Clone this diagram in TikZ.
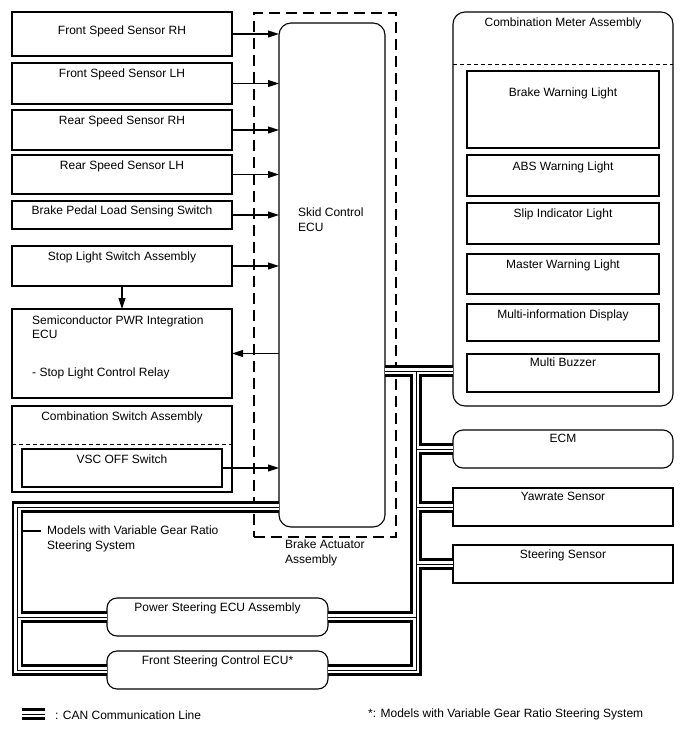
\documentclass[tikz,border=0pt]{standalone}
\usepackage{fontspec}
\setmainfont{Liberation Sans}
\usetikzlibrary{positioning,arrows.meta}

\begin{document}
\begin{tikzpicture}[
  x=1pt, y=-1pt,
  font=\fontsize{12}{14}\selectfont,
  box/.style={draw, line width=1.1pt, inner sep=0pt, outer sep=0pt, minimum width=220pt, anchor=north west},
  rbox/.style={box, rounded corners=10pt},
  ttl/.style={anchor=north, inner sep=0pt, yshift=-5.5pt, align=center},
  sig/.style={line width=1.1pt, -{Triangle[length=11pt, width=7pt]}},
  sep/.style={line width=1pt, dash pattern=on 4pt off 3pt}
]
  \useasboundingbox (0,0) rectangle (688,755);

  % brake actuator assembly
  \node[box, minimum width=142pt, minimum height=524pt, line width=1.3pt, dash pattern=on 11pt off 6pt,
    label={[anchor=north west, align=left, inner sep=0pt, xshift=31pt, yshift=-3pt]south west:Brake Actuator\\[1pt]Assembly}] (bact) at (254,13) {};
  \node[rbox, rounded corners=12pt, minimum width=106pt, minimum height=504pt,
    label={[anchor=north west, align=left, inner sep=0pt, xshift=19pt, yshift=-185pt]north west:Skid Control\\[1pt]ECU}] (skid) at (279,23) {};

  % inputs on the left
  \node[box, minimum height=44pt, label={[ttl, yshift=-8pt]north:Front Speed Sensor RH}] (frs) at (12,12) {};
  \node[box, minimum height=41pt, below=7pt of frs, label={[ttl]north:Front Speed Sensor LH}] (fls) {};
  \node[box, minimum height=40pt, below=6pt of fls, label={[ttl]north:Rear Speed Sensor RH}] (rrs) {};
  \node[box, minimum height=39pt, below=5pt of rrs, label={[ttl]north:Rear Speed Sensor LH}] (rls) {};
  \node[box, minimum height=28pt, below=7pt of rls, label={[ttl, yshift=1pt]north:Brake Pedal Load Sensing Switch}] (bpl) {};
  \node[box, minimum height=40pt, below=17pt of bpl, label={[ttl]north:Stop Light Switch Assembly}] (sls) {};
  \node[box, minimum height=89pt, below=23pt of sls,
    label={[anchor=north west, align=left, inner sep=0pt, xshift=20pt, yshift=-6.5pt]north west:Semiconductor PWR Integration\\ECU\\[24pt]- Stop Light Control Relay}] (semi) {};
  \node[box, minimum height=86pt, below=8pt of semi, label={[ttl]north:Combination Switch Assembly}] (csw) {};
  \draw[sep] ([yshift=-38pt]csw.north west) -- ([yshift=-38pt]csw.north east);
  \node[box, minimum width=200pt, minimum height=38pt, label={[ttl]north:VSC OFF Switch}] (vsc) at (22,449) {};

  % combination meter
  \node[rbox, rounded corners=12pt, minimum height=394pt, label={[ttl]north:Combination Meter Assembly}] (meter) at (453,12) {};
  \draw[sep] ([yshift=-52pt]meter.north west) -- ([yshift=-52pt]meter.north east);
  \node[box, minimum width=192pt, minimum height=77pt, label={[ttl, yshift=-11pt]north:Brake Warning Light}] (bwl) at (467,71) {};
  \node[box, minimum width=192pt, minimum height=41pt, below=7pt of bwl, label={[ttl, yshift=-1pt]north:ABS Warning Light}] (abs) {};
  \node[box, minimum width=192pt, minimum height=41pt, below=7pt of abs, label={[ttl]north:Slip Indicator Light}] (slip) {};
  \node[box, minimum width=192pt, minimum height=40pt, below=10pt of slip, label={[ttl]north:Master Warning Light}] (mwl) {};
  \node[box, minimum width=192pt, minimum height=37pt, below=10pt of mwl, label={[ttl]north:Multi-information Display}] (mid) {};
  \node[box, minimum width=192pt, minimum height=38pt, below=13pt of mid, label={[ttl, yshift=2pt]north:Multi Buzzer}] (buz) {};

  % other ECUs and sensors
  \node[rbox, minimum height=38pt, label={[ttl, yshift=2pt]north:ECM}] (ecm) at (453,430) {};
  \node[box, minimum height=38pt, label={[ttl, yshift=2pt]north:Yawrate Sensor}] (yaw) at (453,488) {};
  \node[box, minimum height=38pt, label={[ttl, yshift=1pt]north:Steering Sensor}] (str) at (453,545) {};
  \node[rbox, minimum width=221pt, minimum height=38pt, label={[ttl, yshift=1pt]north:Power Steering ECU Assembly}] (psc) at (107,598) {};
  \node[rbox, minimum width=221pt, minimum height=38pt, label={[ttl, yshift=1pt]north:Front Steering Control ECU*}] (fsc) at (107,651) {};

  % signal lines
  \foreach \s in {frs,fls,rrs,rls,bpl,sls,vsc}
    \draw[sig] (\s.east) -- (\s.east -| skid.west);
  \draw[sig] (semi.east -| skid.west) -- (semi.east);
  \draw[sig] (sls.south) -- (semi.north);

  % CAN lines
  \coordinate (canR) at (416,371);
  \coordinate (canL) at (17.5,507);
  \coordinate (legA) at (22,714);
  \coordinate (legB) at (45,714);
  \foreach \w/\col in {11.5pt/black, 6.5pt/white, 1pt/black}
    \draw[line width=\w, draw=\col]
      (skid.east |- canR) -- (meter.west |- canR)
      (canR) -- (canR |- fsc.east) -- (fsc.east)
      (canR |- ecm.west) -- (ecm.west)
      (canR |- yaw.west) -- (yaw.west)
      (canR |- str.west) -- (str.west)
      (canR |- psc.east) -- (psc.east)
      (skid.west |- canL) -- (canL) -- (canL |- fsc.west) -- (fsc.west)
      (canL |- psc.west) -- (psc.west)
      (legA) -- (legB);

  % notes
  \node[anchor=north west, align=left, inner sep=0pt] (mvg) at (47,526) {Models with Variable Gear Ratio\\[1pt]Steering System};
  \coordinate (mvgtip) at (23,531);
  \coordinate (mvgend) at (41,531);
  \draw[line width=1.1pt] (mvgtip) -- (mvgend);
  \node[anchor=west, inner sep=0pt] (canleg) at (55,715) {: CAN Communication Line};
  \node[anchor=west, inner sep=0pt] (vgnote) at (368,714) {*: Models with Variable Gear Ratio Steering System};
\end{tikzpicture}
\end{document}
